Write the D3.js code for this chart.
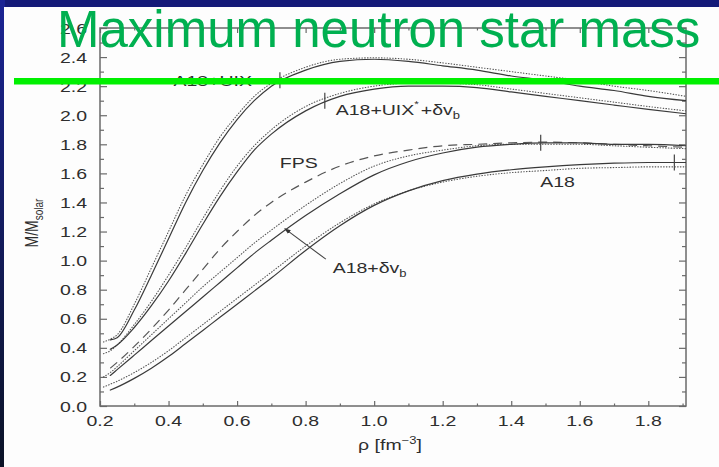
<!DOCTYPE html>
<html>
<head>
<meta charset="utf-8">
<script src="https://cdn.jsdelivr.net/npm/d3@7"></script>
<style>
  html, body { margin: 0; padding: 0; background: #141a78; }
  svg { display: block; }
  text { font-family: "Liberation Sans", Arial, Helvetica, sans-serif; }
</style>
</head>
<body>
<svg id="chart" width="719" height="467"></svg>
<script>
// central density grid (fm^-3) shared by all curves
const rho = [0.21, 0.23, 0.25, 0.3, 0.35, 0.4, 0.45, 0.5, 0.55, 0.6, 0.65, 0.7,
             0.8, 0.9, 1.0, 1.1, 1.2, 1.3, 1.4, 1.5, 1.6, 1.7, 1.8, 1.91];

// M/Msolar (null = curve not started yet)
const uixSolid   = [null, 0.455, 0.47, 0.66, 0.9, 1.15, 1.4, 1.62, 1.81, 1.97, 2.1, 2.2,
                    2.31, 2.37, 2.385, 2.37, 2.34, 2.31, 2.27, 2.24, 2.2, 2.17, 2.13, 2.1];
const uixDotted  = [0.44, 0.46, 0.49, 0.7, 0.95, 1.2, 1.45, 1.66, 1.85, 2.0, 2.13, 2.22,
                    2.33, 2.385, 2.395, 2.385, 2.36, 2.33, 2.3, 2.27, 2.24, 2.2, 2.17, 2.13];
const uixbSolid  = [null, 0.39, 0.42, 0.54, 0.69, 0.86, 1.05, 1.25, 1.44, 1.61, 1.76, 1.87,
                    2.03, 2.13, 2.18, 2.2, 2.2, 2.19, 2.16, 2.13, 2.1, 2.07, 2.04, 2.01];
const uixbDotted = [0.36, 0.38, 0.42, 0.56, 0.72, 0.9, 1.09, 1.29, 1.48, 1.65, 1.79, 1.9,
                    2.06, 2.15, 2.2, 2.22, 2.22, 2.21, 2.18, 2.15, 2.12, 2.09, 2.06, 2.03];
const fpsDashed  = [null, 0.26, 0.3, 0.41, 0.53, 0.66, 0.8, 0.94, 1.08, 1.2, 1.31, 1.4,
                    1.54, 1.65, 1.72, 1.76, 1.79, 1.8, 1.81, 1.815, 1.81, 1.8, 1.79, 1.78];
const dvbSolid   = [null, 0.21, 0.25, 0.35, 0.45, 0.55, 0.65, 0.75, 0.85, 0.95, 1.05, 1.14,
                    1.31, 1.46, 1.59, 1.68, 1.74, 1.78, 1.8, 1.81, 1.81, 1.8, 1.8, 1.79];
const dvbDotted  = [0.2, 0.23, 0.27, 0.38, 0.49, 0.6, 0.71, 0.82, 0.92, 1.02, 1.12, 1.21,
                    1.38, 1.53, 1.65, 1.72, 1.76, 1.79, 1.8, 1.8, 1.8, 1.79, 1.78, 1.77];
const a18Solid   = [null, 0.11, 0.13, 0.19, 0.26, 0.34, 0.43, 0.52, 0.61, 0.7, 0.79, 0.88,
                    1.07, 1.24, 1.38, 1.48, 1.55, 1.595, 1.625, 1.645, 1.66, 1.67, 1.675, 1.675];
const a18Dotted  = [0.13, 0.15, 0.17, 0.23, 0.3, 0.38, 0.47, 0.56, 0.65, 0.74, 0.83, 0.92,
                    1.1, 1.26, 1.39, 1.48, 1.54, 1.58, 1.605, 1.62, 1.635, 1.64, 1.645, 1.645];

// maximum-mass markers [rho, M]
const maxMarks = [[0.725, 2.24], [0.856, 2.1], [1.486, 1.81], [1.876, 1.675]];

const xMajor = [0.2, 0.4, 0.6, 0.8, 1.0, 1.2, 1.4, 1.6, 1.8];
const xMinor = [0.3, 0.5, 0.7, 0.9, 1.1, 1.3, 1.5, 1.7, 1.9];
const yMajor = [0, 0.2, 0.4, 0.6, 0.8, 1.0, 1.2, 1.4, 1.6, 1.8, 2.0, 2.2, 2.4, 2.6];
const yMinor = [0.1, 0.3, 0.5, 0.7, 0.9, 1.1, 1.3, 1.5, 1.7, 1.9, 2.1, 2.3, 2.5];

const W = 719, H = 467;
const PLOT = { left: 100, right: 686, top: 28, bottom: 406 };
const STRETCH = 1.3;   // the scanned figure is wider than tall
const INK = '#2e2e2e';

const svg = d3.select('#chart');

// slide background
const defs = svg.append('defs');
const grad = defs.append('linearGradient').attr('id', 'edge')
    .attr('x1', 0).attr('y1', 0).attr('x2', 0).attr('y2', 1);
grad.append('stop').attr('offset', '0%').attr('stop-color', '#1b2494');
grad.append('stop').attr('offset', '100%').attr('stop-color', '#0b1326');

svg.append('rect').attr('width', W).attr('height', H).attr('fill', '#141a78');
svg.append('rect').attr('x', 0).attr('y', 0).attr('width', 5).attr('height', H).attr('fill', 'url(#edge)');
svg.append('rect').attr('x', 4).attr('y', 7).attr('width', W - 4).attr('height', H - 7).attr('fill', '#fdfdfd');

defs.append('clipPath').attr('id', 'plotclip')
  .append('rect')
    .attr('x', PLOT.left).attr('y', PLOT.top)
    .attr('width', PLOT.right - PLOT.left).attr('height', PLOT.bottom - PLOT.top);

const x = d3.scaleLinear().domain([0.2, 1.91]).range([PLOT.left, PLOT.right]);
const y = d3.scaleLinear().domain([0, 2.6]).range([PLOT.bottom, PLOT.top]);

// helper for the horizontally stretched lettering of the original figure
function label(parent, px, py, anchor, size) {
    return parent.append('text')
        .attr('transform', `translate(${px},${py}) scale(${STRETCH},1)`)
        .attr('text-anchor', anchor)
        .attr('font-size', size)
        .attr('fill', INK);
}

// axes: ticks point inward on all four sides
const axes = svg.append('g').attr('class', 'axes');
function tickAxis(axisFn, scale, values, size, tx, ty) {
    const g = axes.append('g')
        .attr('transform', `translate(${tx},${ty})`)
        .call(axisFn(scale).tickValues(values).tickSize(-size).tickSizeOuter(0).tickFormat(''));
    g.select('.domain').remove();
    g.selectAll('line').attr('stroke', '#6a6a6a').attr('stroke-width', 1.2);
}
tickAxis(d3.axisBottom, x, xMajor, 5, 0, PLOT.bottom);
tickAxis(d3.axisBottom, x, xMinor, 2.5, 0, PLOT.bottom);
tickAxis(d3.axisTop, x, xMajor, 5, 0, PLOT.top);
tickAxis(d3.axisTop, x, xMinor, 2.5, 0, PLOT.top);
tickAxis(d3.axisLeft, y, yMajor, 7, PLOT.left, 0);
tickAxis(d3.axisLeft, y, yMinor, 4, PLOT.left, 0);
tickAxis(d3.axisRight, y, yMajor, 7, PLOT.right, 0);
tickAxis(d3.axisRight, y, yMinor, 4, PLOT.right, 0);

axes.append('rect')
    .attr('x', PLOT.left).attr('y', PLOT.top)
    .attr('width', PLOT.right - PLOT.left).attr('height', PLOT.bottom - PLOT.top)
    .attr('fill', 'none').attr('stroke', '#6a6a6a').attr('stroke-width', 1.5);

// tick labels
xMajor.forEach(v => label(axes, x(v), 426, 'middle', 15).text(v.toFixed(1)));
yMajor.forEach(v => label(axes, 87, y(v) + 5.5, 'end', 15).text(v.toFixed(1)));

// axis titles
const xt = label(axes, 390, 450, 'middle', 15);
xt.append('tspan').text('ρ [fm');
xt.append('tspan').attr('font-size', 10).attr('dy', -6).text('−3');
xt.append('tspan').attr('dy', 6).text(']');

const yt = axes.append('text')
    .attr('transform', `translate(38,223) scale(${STRETCH},1) rotate(-90)`)
    .attr('text-anchor', 'middle')
    .attr('font-size', 14)
    .attr('fill', INK);
yt.append('tspan').text('M/M');
yt.append('tspan').attr('font-size', 10).attr('dy', 4).text('solar');

// curves
const series = [
    { values: uixDotted,  style: 'dotted' },
    { values: uixSolid,   style: 'solid' },
    { values: uixbDotted, style: 'dotted' },
    { values: uixbSolid,  style: 'solid' },
    { values: fpsDashed,  style: 'dashed' },
    { values: dvbDotted,  style: 'dotted' },
    { values: dvbSolid,   style: 'solid' },
    { values: a18Dotted,  style: 'dotted' },
    { values: a18Solid,   style: 'solid' }
];

const line = d3.line()
    .defined(d => d[1] != null)
    .x(d => x(d[0]))
    .y(d => y(d[1]))
    .curve(d3.curveMonotoneX);

const curves = svg.append('g').attr('clip-path', 'url(#plotclip)');
series.forEach(s => {
    const pts = rho.map((r, i) => [r, s.values[i]]);
    const path = curves.append('path')
        .attr('d', line(pts))
        .attr('fill', 'none')
        .attr('stroke-linecap', 'round');
    if (s.style === 'solid') {
        path.attr('stroke', '#3a3a3a').attr('stroke-width', 1.2);
    } else if (s.style === 'dotted') {
        path.attr('stroke', '#555').attr('stroke-width', 1.1).attr('stroke-dasharray', '0.6,2.2');
    } else {
        path.attr('stroke', '#555').attr('stroke-width', 1.2).attr('stroke-dasharray', '9,6')
            .attr('stroke-linecap', 'butt');
    }
});

// max-mass markers
curves.selectAll('line.mark')
    .data(maxMarks)
    .join('line')
    .attr('class', 'mark')
    .attr('x1', d => x(d[0])).attr('x2', d => x(d[0]))
    .attr('y1', d => y(d[1]) - 8).attr('y2', d => y(d[1]) + 8)
    .attr('stroke', '#444').attr('stroke-width', 1.2);

// curve labels
const notes = svg.append('g');
label(notes, x(0.529), y(2.2), 'middle', 15).text('A18+UIX');

const uixb = label(notes, x(0.888), y(2.0), 'start', 15);
uixb.append('tspan').text('A18+UIX');
uixb.append('tspan').attr('font-size', 9).attr('dy', -8).text('*');
uixb.append('tspan').attr('dy', 8).attr('dx', 1.5).text('+δv');
uixb.append('tspan').attr('font-size', 10).attr('dy', 4).text('b');

label(notes, x(0.78), y(1.636), 'middle', 15).text('FPS');
label(notes, x(1.535), y(1.505), 'middle', 15).text('A18');

const dvb = label(notes, x(0.879), y(0.914), 'start', 15);
dvb.append('tspan').text('A18+δv');
dvb.append('tspan').attr('font-size', 10).attr('dy', 4).text('b');

// arrow from the A18+dv_b label to its curve
defs.append('marker').attr('id', 'arrowhead')
    .attr('viewBox', '0 0 10 10').attr('refX', 9).attr('refY', 5)
    .attr('markerWidth', 6).attr('markerHeight', 6).attr('orient', 'auto')
  .append('path').attr('d', 'M0,1.5 L10,5 L0,8.5 Z').attr('fill', '#333');
notes.append('line')
    .attr('x1', x(0.859)).attr('y1', y(1.01))
    .attr('x2', x(0.739)).attr('y2', y(1.22))
    .attr('stroke', '#444').attr('stroke-width', 1.1)
    .attr('marker-end', 'url(#arrowhead)');

// slide title and rule drawn over the figure
svg.append('text')
    .attr('x', 57).attr('y', 47)
    .attr('font-size', 51)
    .attr('fill', '#00b050')
    .text('Maximum neutron star mass');

svg.append('rect')
    .attr('x', 14).attr('y', 78)
    .attr('width', W - 14).attr('height', 6.5)
    .attr('fill', '#00f000');
</script>
</body>
</html>
